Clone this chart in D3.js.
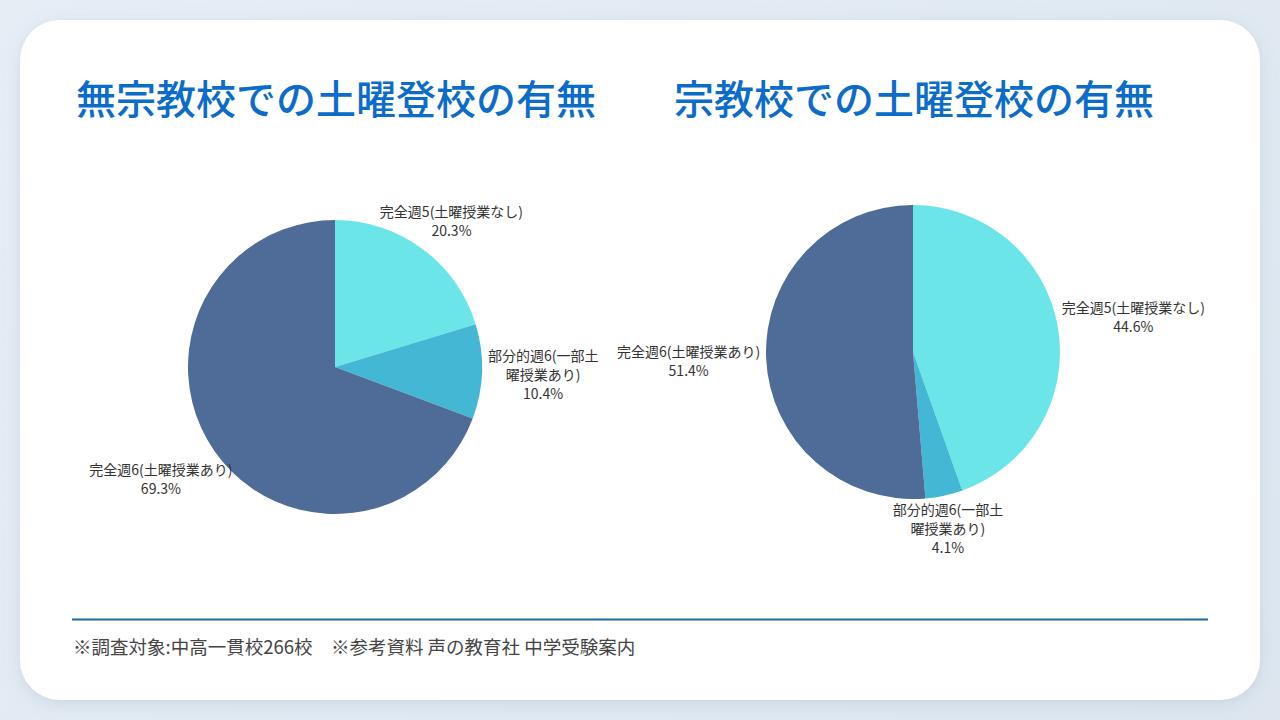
<!DOCTYPE html>
<html>
<head>
<meta charset="utf-8">
<script src="https://cdn.jsdelivr.net/npm/d3@7"></script>
<style>
  html, body { margin: 0; padding: 0; }
  body { width: 1280px; height: 720px; background: linear-gradient(135deg, #e6edf5, #dde6ef); overflow: hidden; }
  svg { display: block; font-family: "Noto Sans CJK JP", "Noto Sans", sans-serif; }
</style>
</head>
<body>
<svg id="chart" width="1280" height="720"></svg>
<script>
const categories = ["完全週5(土曜授業なし)", "部分的週6(一部土曜授業あり)", "完全週6(土曜授業あり)"];
// wrapped label lines as drawn in the picture
const labelLines = [["完全週5(土曜授業なし)"], ["部分的週6(一部土", "曜授業あり)"], ["完全週6(土曜授業あり)"]];
const secularValues = [20.3, 10.4, 69.3];
const religiousValues = [44.6, 4.1, 51.4];
const titles = ["無宗教校での土曜登校の有無", "宗教校での土曜登校の有無"];
const footnote = "※調査対象:中高一貫校266校　※参考資料 声の教育社 中学受験案内";
const colors = ["#6be5e8", "#43b7d4", "#4e6c97"];

const svg = d3.select("#chart");

const defs = svg.append("defs");
const shadow = defs.append("filter").attr("id", "shadow")
  .attr("x", "-10%").attr("y", "-10%").attr("width", "120%").attr("height", "120%");
shadow.append("feDropShadow").attr("dx", 0).attr("dy", 4).attr("stdDeviation", 8)
  .attr("flood-color", "#8aa0b8").attr("flood-opacity", 0.25);

// card
svg.append("rect")
  .attr("x", 20).attr("y", 20).attr("width", 1240).attr("height", 680)
  .attr("rx", 40).attr("fill", "#fff").attr("filter", "url(#shadow)");

// titles
svg.selectAll("text.title")
  .data(titles)
  .enter()
  .append("text")
  .attr("class", "title")
  .attr("x", (d, i) => i === 0 ? 76 : 674)
  .attr("y", 114)
  .attr("font-size", 40)
  .attr("font-weight", 500)
  .attr("fill", "#0b6cc9")
  .text(d => d);

const color = d3.scaleOrdinal().domain(categories).range(colors);
const radius = 147;
const arc = d3.arc().innerRadius(0).outerRadius(radius);
const pie = d3.pie().sort(null).value(d => d.value);

function drawPie(values, cx, cy) {
  const data = categories.map((c, i) => ({ name: c, value: values[i], lines: labelLines[i] }));
  const g = svg.append("g").attr("transform", `translate(${cx},${cy})`);

  g.selectAll("path")
    .data(pie(data))
    .enter()
    .append("path")
    .attr("d", arc)
    .attr("fill", d => color(d.data.name));

  // labels outside, pushed away along the middle angle
  const lineH = 19;
  const labels = g.selectAll("g.label")
    .data(pie(data))
    .enter()
    .append("g")
    .attr("class", "label");

  labels.each(function (d) {
    const lbl = d3.select(this);
    const lines = d.data.lines.concat([d.data.value.toFixed(1) + "%"]);
    const t = lbl.append("text")
      .attr("text-anchor", "middle")
      .attr("font-size", 14)
      .attr("fill", "#333");
    lines.forEach((s, k) => {
      t.append("tspan").attr("x", 0).attr("y", k * lineH).text(s);
    });
    const bb = t.node().getBBox();
    const a = (d.startAngle + d.endAngle) / 2;
    const ux = Math.sin(a), uy = -Math.cos(a);
    const r = radius + 6;
    const px = r * ux + ux * Math.abs(ux) * bb.width / 2;
    const py = r * uy + uy * bb.height / 2 - uy * 4 + 40 * ux * ux * uy;
    const cyText = bb.y + bb.height / 2;
    lbl.attr("transform", `translate(${px},${py - cyText})`);
  });
}

drawPie(secularValues, 335, 367);
drawPie(religiousValues, 913, 352);

// divider and footnote
svg.append("line")
  .attr("x1", 72).attr("x2", 1208).attr("y1", 619.5).attr("y2", 619.5)
  .attr("stroke", "#1b6e9c").attr("stroke-width", 2);

svg.append("text")
  .attr("x", 73).attr("y", 654)
  .attr("font-size", 18.5)
  .attr("fill", "#444")
  .text(footnote);
</script>
</body>
</html>
